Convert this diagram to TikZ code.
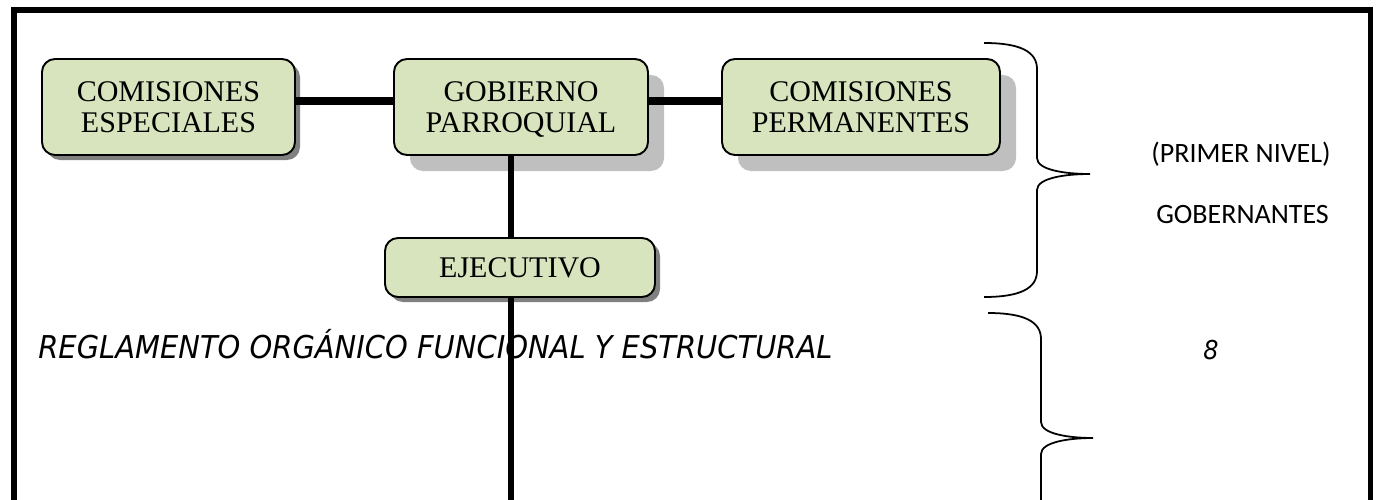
\documentclass[tikz,border=0pt]{standalone}
\usepackage{fontspec}
\setmainfont{Liberation Serif}
\newfontfamily\nivelfont{Carlito}
\newfontfamily\titulofont[FakeStretch=0.92]{DejaVu Sans}
\usetikzlibrary{shadows}
\definecolor{cajaverde}{HTML}{D7E4BD}

\begin{document}
\begin{tikzpicture}[
    caja/.style={draw=black, line width=1.1pt, fill=cajaverde, rounded corners=0.26cm, inner sep=0pt, minimum height=1.92cm, align=center, font=\fontsize{17.07}{17.64}\selectfont},
    sombraoscura/.style={drop shadow={shadow xshift=0.1cm, shadow yshift=-0.1cm, fill=black!50, opacity=1}},
    sombraclara/.style={drop shadow={shadow xshift=0.32cm, shadow yshift=-0.32cm, fill=black!25, opacity=1}},
    linea/.style={line width=4.5pt},
    llave/.style={line width=1pt}
  ]
    \useasboundingbox (0,0) rectangle (27.54,9.98);
    % marco
    \draw[line width=2.85pt] (0.28,-0.2) -- (0.28,9.78) -- (27.40,9.78) -- (27.40,-0.2);
    % cajas
    \node[caja, sombraoscura, minimum width=5.06cm] (especiales) at (3.37,7.84) {COMISIONES\\ESPECIALES};
    \node[caja, sombraclara, minimum width=5.08cm] (gobierno) at (10.42,7.84) {GOBIERNO\\\smash{PARROQUIAL}};
    \node[caja, sombraclara, minimum width=5.56cm] (permanentes) at (17.22,7.84) {COMISIONES\\PERMANENTES};
    \node[caja, sombraoscura, minimum width=5.40cm, minimum height=1.18cm] (ejecutivo) at (10.40,4.63) {EJECUTIVO};
    % textos
    \node[font=\titulofont\itshape\fontsize{17.9}{20}\selectfont, anchor=base west, inner sep=0pt] (reglamento) at (0.76,2.82) {REGLAMENTO ORGÁNICO FUNCIONAL Y ESTRUCTURAL};
    \node[font=\titulofont\itshape\fontsize{14.8}{16}\selectfont, anchor=base, inner sep=0pt] (pagina) at (24.22,2.80) {8};
    \node[font=\nivelfont\fontsize{15.93}{18}\selectfont, anchor=base, inner sep=0pt] (nivel) at (24.82,6.72) {(PRIMER NIVEL)};
    \node[font=\nivelfont\fontsize{15.93}{18}\selectfont, anchor=base, inner sep=0pt] (gobernantes) at (24.85,5.52) {GOBERNANTES};
    % lineas
    \coordinate (barra) at (0,7.96);
    \coordinate (tallo) at (10.22,-0.2);
    \draw[linea] (especiales.east |- barra) -- (gobierno.west |- barra);
    \draw[linea] (gobierno.east |- barra) -- (permanentes.west |- barra);
    \draw[line width=3.4pt] (gobierno.south -| tallo) -- (ejecutivo.north -| tallo);
    \draw[line width=3.4pt] (ejecutivo.south -| tallo) -- (tallo);
    % llaves
    \draw[llave] (19.68,9.12) .. controls (20.40,9.12) and (20.74,8.95) .. (20.74,8.60) -- (20.74,6.82) .. controls (20.74,6.58) and (21.30,6.50) .. (21.80,6.50) .. controls (21.30,6.50) and (20.74,6.42) .. (20.74,6.18) -- (20.74,4.56) .. controls (20.74,4.21) and (20.40,4.04) .. (19.68,4.04);
    \draw[llave] (19.76,3.72) .. controls (20.48,3.72) and (20.82,3.55) .. (20.82,3.20) -- (20.82,1.54) .. controls (20.82,1.30) and (21.38,1.22) .. (21.86,1.22) .. controls (21.38,1.22) and (20.82,1.14) .. (20.82,0.90) -- (20.82,-0.2);
\end{tikzpicture}
\end{document}
